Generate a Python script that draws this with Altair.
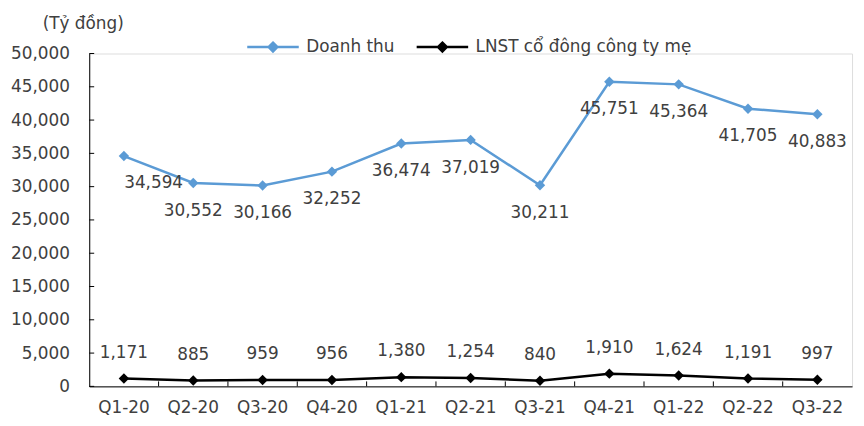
import altair as alt
import pandas as pd

quarters = ["Q1-20", "Q2-20", "Q3-20", "Q4-20", "Q1-21", "Q2-21", "Q3-21",
            "Q4-21", "Q1-22", "Q2-22", "Q3-22"]
revenue = [34594, 30552, 30166, 32252, 36474, 37019, 30211, 45751, 45364, 41705, 40883]
profit = [1171, 885, 959, 956, 1380, 1254, 840, 1910, 1624, 1191, 997]
series = ["Doanh thu", "LNST cổ đông công ty mẹ"]
colors = ["#5B9BD5", "#000000"]
y_ticks = list(range(0, 50001, 5000))
unit_title = "(Tỷ đồng)"

rows = []
for i, q in enumerate(quarters):
    rows.append({"q": q, "s": series[0], "v": revenue[i], "i": i})
    rows.append({"q": q, "s": series[1], "v": profit[i], "i": i})
df = pd.DataFrame(rows)

FONT = "DejaVu Sans"
TXT = "#404040"
FS = 17


def make_x(**kw):
    return alt.X("q:N", sort=quarters,
                 scale=alt.Scale(type="band", paddingInner=0, paddingOuter=0),
                 axis=alt.Axis(title=None, labelAngle=0, ticks=False, tickSize=0,
                               domainColor="black", labelPadding=13, labelOverlap=False,
                               labelFont=FONT, labelFontSize=FS, labelColor=TXT, grid=False),
                 **kw)


def make_y():
    return alt.Y("v:Q", scale=alt.Scale(domain=[0, 50000], nice=False),
                 axis=alt.Axis(title=None, values=y_ticks, format=",.0f", ticks=False,
                               tickSize=0, domainColor="black", labelPadding=20,
                               labelOverlap=False, labelFont=FONT, labelFontSize=FS,
                               labelColor=TXT, grid=False))


def make_legend():
    return alt.Legend(title=None, orient="none", legendX=158, legendY=-34,
                      direction="horizontal", columnPadding=16,
                      symbolType="M-1,0H1M0,-0.17L0.17,0L0,0.17L-0.17,0Z",
                      symbolSize=2704, symbolStrokeWidth=2.5,
                      labelFont=FONT, labelFontSize=FS, labelColor=TXT,
                      labelOffset=6, labelLimit=400)


cscale = alt.Scale(domain=series, range=colors)

base = alt.Chart(df).encode(x=make_x(), y=make_y())

# inward tick marks (y axis ticks point right, x axis ticks point up)
ytick_rules = alt.Chart(pd.DataFrame({"v": y_ticks})).mark_rule(
    color="black", strokeWidth=1
).encode(y=make_y(), x=alt.value(0), x2=alt.value(5))
xtick_rules = alt.Chart(pd.DataFrame({"q": quarters[1:]})).mark_rule(
    color="black", strokeWidth=1
).encode(x=make_x(bandPosition=0), y=alt.value(336), y2=alt.value(331))

lines = base.mark_line(strokeWidth=2.5).encode(
    stroke=alt.Stroke("s:N", scale=cscale, legend=make_legend()), detail="s:N")
points = base.mark_point(shape="diamond", filled=True, size=110, opacity=1).encode(
    fill=alt.Fill("s:N", scale=cscale, legend=make_legend()))

txt_kw = dict(font=FONT, fontSize=FS, color=TXT)
rev_lbl = base.transform_filter(
    (alt.datum.s == series[0]) & (alt.datum.i > 0)
).mark_text(dy=28, **txt_kw).encode(text=alt.Text("v:Q", format=",.0f"))
rev_lbl0 = base.transform_filter(
    (alt.datum.s == series[0]) & (alt.datum.i == 0)
).mark_text(dy=27, dx=30, **txt_kw).encode(text=alt.Text("v:Q", format=",.0f"))
prof_lbl = base.transform_filter(
    alt.datum.s == series[1]
).mark_text(dy=-26, **txt_kw).encode(text=alt.Text("v:Q", format=",.0f"))

title_txt = alt.Chart(pd.DataFrame({"t": [unit_title]})).mark_text(
    align="left", baseline="middle", **txt_kw
).encode(text="t:N", x=alt.value(-47), y=alt.value(-30))

chart = alt.layer(lines, points, ytick_rules, xtick_rules, rev_lbl, rev_lbl0, prof_lbl,
                  title_txt).properties(
    width=770, height=336,
    autosize=alt.AutoSizeParams(type="none"),
    padding={"left": 82, "top": 44, "right": 4, "bottom": 30},
).configure_view(stroke=None).configure(background="white")

chart.save("out.html", embed_options={"renderer": "svg", "actions": False})
